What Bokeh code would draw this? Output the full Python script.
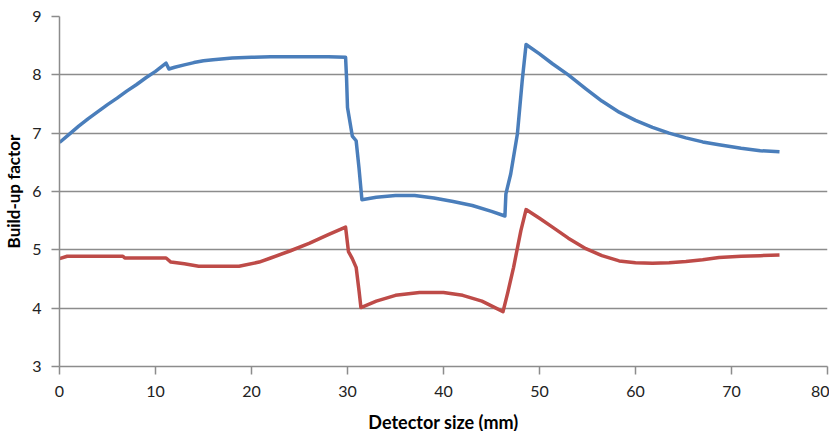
from bokeh.plotting import figure
from bokeh.models import Range1d, FixedTicker
from bokeh.embed import file_html
from bokeh.resources import INLINE

# Detector size (mm) and build-up factor, blue series
blue_x = [0, 1, 2, 3, 4, 5, 6, 7, 8, 9, 10, 11.1, 11.4, 12, 13, 14, 15, 16, 18, 20,
          22, 25, 28, 29.8, 29.9, 30.0, 30.5, 30.9, 31.2, 31.5, 33, 35, 37, 39, 41,
          43, 45, 46.4, 46.5, 47, 47.7, 48.2, 48.6, 50, 51.35, 53, 54.83, 56.5, 58.3,
          60, 61.77, 63.5, 65.25, 67, 68.7, 71, 73, 75]
blue_y = [6.84, 6.98, 7.12, 7.25, 7.37, 7.49, 7.60, 7.72, 7.83, 7.95, 8.06, 8.20, 8.10,
          8.13, 8.17, 8.21, 8.24, 8.26, 8.29, 8.30, 8.31, 8.31, 8.31, 8.30, 7.95, 7.44,
          6.95, 6.87, 6.40, 5.86, 5.90, 5.93, 5.93, 5.89, 5.83, 5.76, 5.66, 5.58, 5.96,
          6.30, 6.99, 7.90, 8.52, 8.36, 8.19, 8.00, 7.76, 7.55, 7.36, 7.22, 7.10, 7.00,
          6.92, 6.85, 6.80, 6.74, 6.70, 6.68]

# red series
red_x = [0, 0.8, 6.6, 6.8, 11.1, 11.6, 13, 14.5, 18.7, 20.8, 22, 24, 26, 28, 29.8,
         30.1, 30.5, 30.9, 31.2, 31.4, 33, 35, 37.5, 40, 42, 44, 46.2, 46.7, 47.3,
         48.06, 48.6, 50, 51.35, 53, 54.83, 56.5, 58.3, 60, 61.77, 63.5, 65.25, 67,
         68.7, 71, 73, 75]
red_y = [4.85, 4.89, 4.89, 4.86, 4.86, 4.79, 4.76, 4.72, 4.72, 4.79, 4.86, 4.98, 5.11,
         5.26, 5.39, 4.97, 4.85, 4.70, 4.30, 4.01, 4.12, 4.22, 4.27, 4.27, 4.22, 4.12,
         3.94, 4.27, 4.70, 5.33, 5.69, 5.54, 5.39, 5.20, 5.02, 4.90, 4.81, 4.78, 4.77,
         4.78, 4.80, 4.83, 4.87, 4.89, 4.90, 4.91]

x_ticks = [0, 10, 20, 30, 40, 50, 60, 70, 80]
y_ticks = [3, 4, 5, 6, 7, 8, 9]

FONT = "Lato"
GRID = "#8c8c8c"

p = figure(frame_width=768, frame_height=350, output_backend="svg",
           toolbar_location=None, x_range=Range1d(0, 80), y_range=Range1d(3, 9),
           min_border_left=52, min_border_right=2, min_border_top=16,
           min_border_bottom=60)
p.outline_line_color = None
p.background_fill_color = "white"
p.border_fill_color = "white"

p.line(blue_x, blue_y, line_color="#4a7ebb", line_width=3.5, line_join="round")
p.line(red_x, red_y, line_color="#be4b48", line_width=3.5, line_join="round")

p.xgrid.grid_line_color = None
p.ygrid.grid_line_color = GRID
p.ygrid.grid_line_width = 1.5
p.xaxis.ticker = FixedTicker(ticks=x_ticks)
p.yaxis.ticker = FixedTicker(ticks=y_ticks)

for ax in (p.xaxis[0], p.yaxis[0]):
    ax.axis_line_color = GRID
    ax.axis_line_width = 1.5
    ax.major_tick_line_color = GRID
    ax.major_tick_line_width = 1.5
    ax.major_tick_out = 8
    ax.major_tick_in = 0
    ax.minor_tick_line_color = None
    ax.major_label_text_font = FONT
    ax.major_label_text_font_size = "16px"
    ax.major_label_text_color = "#222222"
    ax.axis_label_text_font = FONT
    ax.axis_label_text_font_style = "bold"
    ax.axis_label_text_color = "#000000"

p.xaxis.axis_label = "Detector size (mm)"
p.xaxis.axis_label_text_font_size = "18px"
p.xaxis.major_label_standoff = 11
p.xaxis.axis_label_standoff = 11
p.yaxis.axis_label = "Build-up factor"
p.yaxis.axis_label_text_font_size = "17px"
p.yaxis.major_label_standoff = 10
p.yaxis.axis_label_standoff = 5

open("out.html", "w").write(file_html(p, INLINE))
